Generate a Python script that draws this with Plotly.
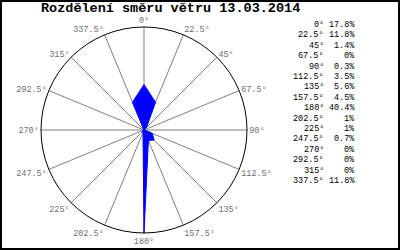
import plotly.graph_objects as go

directions = [0, 22.5, 45, 67.5, 90, 112.5, 135, 157.5, 180, 202.5, 225, 247.5, 270, 292.5, 315, 337.5]
dir_labels = ["0°", "22.5°", "45°", "67.5°", "90°", "112.5°", "135°", "157.5°", "180°",
              "202.5°", "225°", "247.5°", "270°", "292.5°", "315°", "337.5°"]
percent = [17.8, 11.8, 1.4, 0, 0.3, 3.5, 5.6, 4.5, 40.4, 1, 1, 0.7, 0, 0, 0, 11.8]
title_text = "Rozdělení směru větru 13.03.2014"

W, H = 400, 250
cx, cy, R = 144, 130, 103

fig = go.Figure()
fig.add_trace(go.Scatterpolar(
    r=percent + [percent[0]],
    theta=directions + [directions[0]],
    mode="lines",
    fill="toself",
    fillcolor="#0000FF",
    line=dict(color="#0000FF", width=1),
    hoverinfo="skip",
))

mono = "Liberation Mono"

def fmt(v):
    s = f"{v:.1f}"
    if s.endswith(".0"):
        s = s[:-2]
    return s + "%"

annotations = [dict(
    text=f"<b>{title_text}</b>", x=170.5 / W, y=1 - 8 / H, xref="paper", yref="paper",
    xanchor="center", yanchor="middle", showarrow=False,
    font=dict(family=mono, size=13.5, color="black"))]

for i, (lab, v) in enumerate(zip(dir_labels, percent)):
    yy = 1 - (25 + i * 10.4) / H
    annotations.append(dict(text=lab, x=326 / W, y=yy, xref="paper", yref="paper",
                            xanchor="right", yanchor="middle", showarrow=False,
                            font=dict(family=mono, size=8.5, color="black")))
    annotations.append(dict(text=fmt(v), x=357 / W, y=yy, xref="paper", yref="paper",
                            xanchor="right", yanchor="middle", showarrow=False,
                            font=dict(family=mono, size=8.5, color="black")))

fig.update_layout(
    width=W, height=H,
    margin=dict(l=0, r=0, t=0, b=0),
    paper_bgcolor="white",
    plot_bgcolor="white",
    showlegend=False,
    polar=dict(
        domain=dict(x=[(cx - R) / W, (cx + R) / W], y=[(H - cy - R) / H, (H - cy + R) / H]),
        bgcolor="white",
        radialaxis=dict(range=[0, max(percent)], visible=False, showgrid=False),
        angularaxis=dict(
            direction="clockwise", rotation=90,
            tickmode="array", tickvals=directions, ticktext=dir_labels,
            showgrid=True, gridcolor="#808080", gridwidth=1,
            showline=True, linecolor="black", linewidth=1,
            ticks="", tickfont=dict(family=mono, size=8.5, color="#707070"),
        ),
    ),
    annotations=annotations,
    shapes=[dict(type="rect", xref="paper", yref="paper",
                 x0=1 / W, x1=1 - 1 / W, y0=1 / H, y1=1 - 1 / H,
                 line=dict(color="black", width=2))],
)

fig.write_html("out.html")
